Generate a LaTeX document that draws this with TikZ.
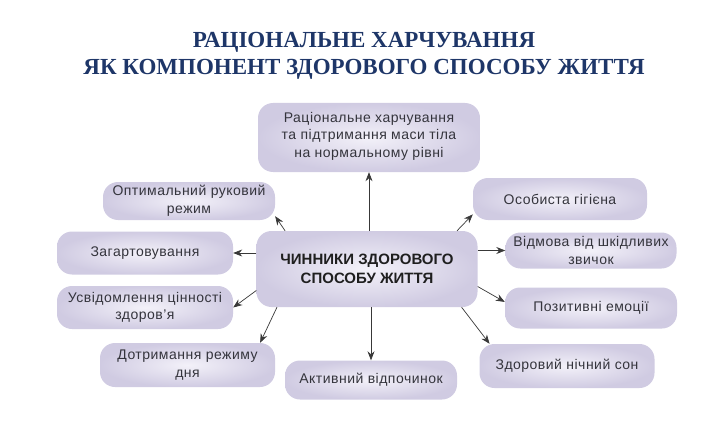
\documentclass[tikz,border=0pt]{standalone}
\usepackage{fontspec}
\setmainfont{Liberation Serif}
\setsansfont{Liberation Sans}
\newfontfamily\boxfont{Liberation Sans}[LetterSpace=3.5]
\usepackage{xcolor}
\definecolor{titleblue}{RGB}{30,54,104}
\definecolor{boxlight}{RGB}{243,241,249}
\definecolor{boxdark}{RGB}{208,203,226}
\definecolor{textgray}{RGB}{52,52,60}
\usetikzlibrary{arrows.meta}
\usetikzlibrary{positioning}

\begin{document}
\begin{tikzpicture}[x=1pt, y=-1pt,
    factor/.style={rounded corners=15pt, inner color=boxlight, outer color=boxdark,
        minimum width=175pt, minimum height=43pt, align=center,
        font=\boxfont\fontsize{14}{17.5}\selectfont, text=textgray},
    link/.style={-{Stealth[length=9pt, width=7pt]}, draw=black!78, line width=0.7pt}]
\useasboundingbox (0,0) rectangle (728,433);

% title
\node(title) at (364,55.5) [font=\bfseries\fontsize{23}{27}\selectfont, text=titleblue, align=center]
    {РАЦІОНАЛЬНЕ ХАРЧУВАННЯ\\ЯК КОМПОНЕНТ ЗДОРОВОГО СПОСОБУ ЖИТТЯ};

% centre
\node(main)[factor, minimum width=221pt, minimum height=76pt,
    font=\sffamily\bfseries\fontsize{15}{19}\selectfont, text=black!88] at (367,269)
    {ЧИННИКИ ЗДОРОВОГО\\СПОСОБУ ЖИТТЯ};

% factors
\node(food)[factor, minimum width=222pt, minimum height=69pt, text depth=6pt] at (369,137.5)
    {Раціональне харчування\\та підтримання маси тіла\\на нормальному рівні};
\node(motion)[factor, minimum width=172pt, minimum height=38pt] at (189,201) {Оптимальний руковий\\режим};
\node(hygiene)[factor, minimum width=174pt, minimum height=42pt] at (560,199) {Особиста гігієна};
\node(harden)[factor, minimum width=176pt] at (145,253) {Загартовування};
\node(habits)[factor, minimum width=171pt, minimum height=36pt] at (591,250.5) {Відмова від шкідливих\\звичок};
\node(value)[factor, minimum width=176pt] at (145,307.5) {Усвідомлення цінності\\здоров’я};
\node(emotion)[factor, minimum width=172pt, minimum height=41pt] at (591,308) {Позитивні емоції};
\node(regime)[factor, minimum height=44pt] at (187.5,365) {Дотримання режиму\\дня};
\node(rest)[factor, minimum width=172pt, minimum height=39pt] at (371,380) {Активний відпочинок};
\node(sleep)[factor, minimum height=44pt] at (567,366) {Здоровий нічний сон};

% connectors
\draw[link] (main.north -| food) -- (food.south);
\draw[link] (main.south -| rest) -- (rest.north);
\draw[link] (main.west |- harden) -- (harden.east);
\draw[link] (main.155) -- (motion.350);
\draw[link] (main.191) -- (value.east);
\draw[link] (main.203) -- (regime.17);
\draw[link] (main.23.5) -- (hygiene.190.7);
\draw[link] (main.east |- habits) -- (habits.west);
\draw[link] (main.351) -- (emotion.176.7);
\draw[link] (main.338) -- (sleep.164);
\end{tikzpicture}
\end{document}
